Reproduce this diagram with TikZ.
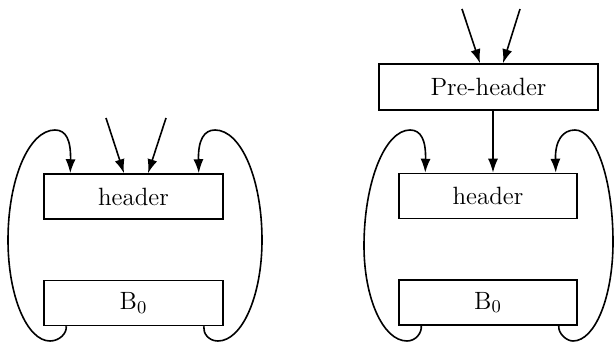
\documentclass[tikz,border=0pt]{standalone}
\usetikzlibrary{positioning,calc,arrows.meta}
\tikzset{
  blockbox/.style={draw, line width=0.75pt, minimum width=89.5pt, minimum height=22.5pt,
    inner sep=0pt, font=\fontsize{12.5pt}{15pt}\selectfont},
  flow/.style={-{Latex[length=7pt,width=5pt]}, line width=0.8pt},
}
\begin{document}
\begin{tikzpicture}[x=0.5pt, y=0.5pt]
    \useasboundingbox (0,0) rectangle (615,342);

    % Loop without pre-header
    \node[blockbox] (hdrA) at (133.5,145.5) {header};
    \node[blockbox, below=30pt of hdrA] (bA) {B$_0$};

    \coordinate (inA1) at (106,224);
    \coordinate (inA2) at (166,224);
    \draw[flow] (inA1) -- ($(hdrA.north)+(-9.5,0)$);
    \draw[flow] (inA2) -- ($(hdrA.north)+(14.5,0)$);

    % Back edges
    \draw[flow] ($(bA.south west)+(23,0)$) .. controls (67,8.6) and (59.4,1) .. (50,1)
        .. controls (27,1) and (8,46) .. (8,102)
        .. controls (8,163) and (29,212) .. (55,212)
        .. controls (66,212) and (71,202) .. ($(hdrA.north west)+(27,0)$);
    \draw[flow] ($(bA.south east)+(-20,0)$) .. controls (203,8.6) and (208.6,1) .. (218,1)
        .. controls (242,1) and (262,46) .. (262,102)
        .. controls (262,163) and (241,212) .. (215,212)
        .. controls (204,212) and (198,202) .. ($(hdrA.north east)+(-25,0)$);

    % Loop with pre-header
    \node[blockbox, minimum width=109.5pt, minimum height=23pt] (pre) at (488.5,255) {Pre-header};
    \node[blockbox, minimum width=89pt] (hdrB) at (488,146) {header};
    \node[blockbox, minimum width=89pt, below=30pt of hdrB] (bB) {B$_0$};

    \coordinate (inB1) at (462,333);
    \coordinate (inB2) at (520,333);
    \draw[flow] (inB1) -- ($(pre.north)+(-8.5,0)$);
    \draw[flow] (inB2) -- ($(pre.north)+(14.5,0)$);
    \draw[flow] ($(pre.south)+(4.5,0)$) -- ($(hdrB.north)+(5,0)$);

    % Back edges
    \draw[flow] ($(bB.south west)+(23,0)$) .. controls (422,8.6) and (415.4,1) .. (407,1)
        .. controls (383,1) and (364,44) .. (364,96)
        .. controls (364,160) and (385,212) .. (410,212)
        .. controls (421,212) and (426,202) .. ($(hdrB.north west)+(27,0)$);
    \draw[flow] ($(bB.south east)+(-19,0)$) .. controls (558,8.6) and (566.4,1) .. (573,1)
        .. controls (595,1) and (613,45) .. (613,100)
        .. controls (613,162) and (596,212) .. (575,212)
        .. controls (563,212) and (555,202) .. ($(hdrB.north east)+(-22,0)$);
\end{tikzpicture}
\end{document}
